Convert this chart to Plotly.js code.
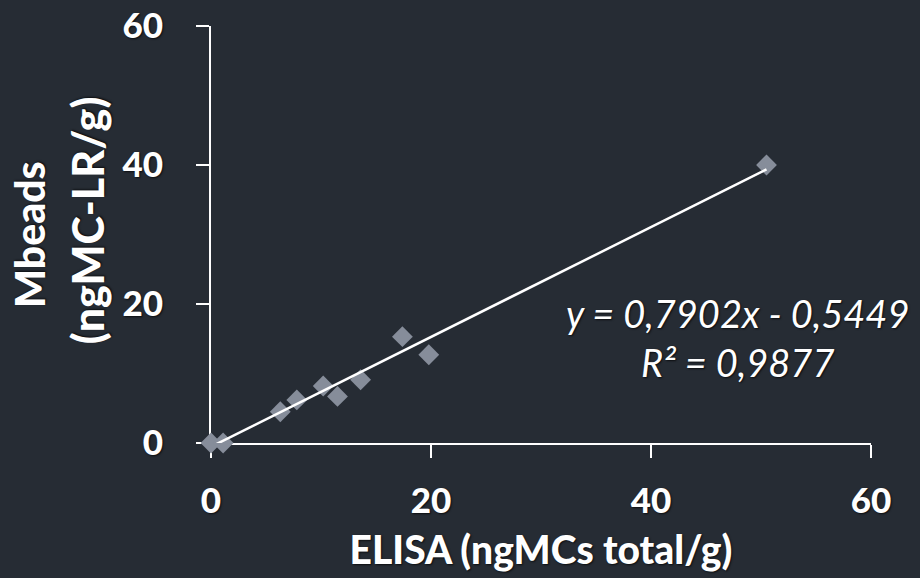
<!DOCTYPE html>
<html>
<head>
<meta charset="utf-8">
<script src="https://cdn.plot.ly/plotly-3.0.1.min.js"></script>
<style>
html,body{margin:0;padding:0;background:#262c34;}
#chart{width:920px;height:578px;}
</style>
</head>
<body>
<div id="chart"></div>
<script>
// Data
var elisa  = [0, 1.1, 6.3, 7.8, 10.2, 11.5, 13.6, 17.4, 19.8, 50.5];
var mbeads = [0, 0, 4.5, 6.2, 8.2, 6.7, 9.1, 15.3, 12.7, 40.0];
var slope = 0.7902;
var intercept = -0.5449;
var r2 = 0.9877;
var tickVals = [0, 20, 40, 60];
var tickText = ['0', '20', '40', '60'];
var xTitle = 'ELISA (ngMCs total/g)';
var yTitle1 = 'Mbeads';
var yTitle2 = '(ngMC-LR/g)';

var xMin = Math.min.apply(null, elisa), xMax = Math.max.apply(null, elisa);
var fmt = function(v){ return v.toFixed(4).replace('.', ','); };
var eqText = 'y = ' + fmt(slope) + 'x - ' + fmt(Math.abs(intercept)) + '<br>R² = ' + fmt(r2);

var shadow = '1px 1px 2px rgba(0,0,0,0.7)';
var white = '#ffffff';

var traces = [
  {
    x: elisa, y: mbeads, type: 'scatter', mode: 'markers',
    marker: {symbol: 'diamond', size: 16, color: '#868d9a'},
    cliponaxis: false, hoverinfo: 'x+y'
  },
  {
    x: [xMin, xMax], y: [slope * xMin + intercept, slope * xMax + intercept],
    type: 'scatter', mode: 'lines',
    line: {color: white, width: 2.5},
    cliponaxis: false, hoverinfo: 'skip'
  }
];

var axisCommon = {
  range: [0, 60], tickvals: tickVals, ticktext: tickText,
  showgrid: false, zeroline: false, showline: true,
  linecolor: white, linewidth: 2,
  ticks: 'outside', ticklen: 13, tickwidth: 2, tickcolor: white,
  tickfont: {family: 'Lato, sans-serif', size: 35, weight: 900, color: white, shadow: shadow},
  layer: 'below traces', fixedrange: true
};

var layout = {
  width: 920, height: 578,
  paper_bgcolor: '#262c34', plot_bgcolor: '#262c34',
  margin: {l: 211, r: 49, t: 26, b: 135},
  showlegend: false,
  xaxis: Object.assign({}, axisCommon, {
    ticklabelstandoff: 13,
    title: {text: xTitle, standoff: 18,
      font: {family: 'Lato, sans-serif', size: 39, weight: 900, color: white, shadow: shadow}}
  }),
  yaxis: Object.assign({}, axisCommon, {
    ticklabelstandoff: 26
  }),
  annotations: [
    {xref: 'paper', yref: 'paper', x: -0.276, y: 0.501, xanchor: 'center', yanchor: 'middle',
     text: yTitle1, textangle: -90, showarrow: false,
     font: {family: 'Lato, sans-serif', size: 41, weight: 900, color: white, shadow: shadow}},
    {xref: 'paper', yref: 'paper', x: -0.186, y: 0.535, xanchor: 'center', yanchor: 'middle',
     text: yTitle2, textangle: -90, showarrow: false,
     font: {family: 'Lato, sans-serif', size: 43, weight: 900, color: white, shadow: shadow}},
    {xref: 'paper', yref: 'paper', x: 0.797, y: 0.252, xanchor: 'center', yanchor: 'middle',
     text: eqText, showarrow: false, align: 'center',
     font: {family: 'Lato, sans-serif', size: 38, style: 'italic', color: white, shadow: shadow}}
  ]
};

Plotly.newPlot('chart', traces, layout, {displayModeBar: false, staticPlot: true});
</script>
</body>
</html>
